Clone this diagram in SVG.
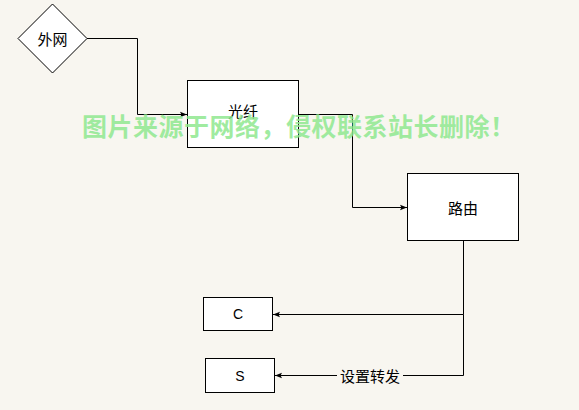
<svg xmlns="http://www.w3.org/2000/svg" width="579" height="410" viewBox="0 0 579 410">
<style>
.node{fill:#ffffff;stroke:#000000;stroke-width:1}
.lbl{font-family:"Noto Sans CJK SC","Liberation Sans",sans-serif;font-size:15px;fill:#000000;text-anchor:middle;dominant-baseline:central}
.lat{font-family:"Liberation Sans",sans-serif;font-size:14px;fill:#000000;text-anchor:middle;dominant-baseline:central}
.edge{fill:none;stroke:#000000;stroke-width:1}
.wm{font-family:"Noto Sans CJK SC",sans-serif;font-size:25px;font-weight:bold;fill:#8fe88f;fill-opacity:0.85}
</style>
<defs>
<marker id="arr" viewBox="0 0 10 10" refX="10" refY="5" markerWidth="7" markerHeight="7" markerUnits="userSpaceOnUse" orient="auto">
<path d="M0,1 L10,5 L0,9 L2,5 Z" fill="#000000"/>
</marker>
</defs>
<rect width="579" height="410" fill="#f8f6f0"/>
<g id="connectors">
<path class="edge" d="M87,38.5 H137.5 V114.5 H187" marker-end="url(#arr)"/>
<path class="edge" d="M298,114.5 H352.5 V207.5 H407" marker-end="url(#arr)"/>
<path class="edge" d="M463.5,241 V314.5 H273" marker-end="url(#arr)"/>
<path class="edge" d="M463.5,314.5 V375.5 H275" marker-end="url(#arr)"/>
<rect x="337" y="366" width="66" height="19" fill="#f8f6f0"/>
<text class="lbl" x="370" y="375">设置转发</text>
</g>
<g id="node-waiwang">
<polygon class="node" points="52.5,4 87,38.5 52.5,73 18,38.5"/>
<text class="lbl" x="52.5" y="38">外网</text>
</g>
<g id="node-guangxian">
<rect class="node" x="187.5" y="80.5" width="111" height="67"/>
<text class="lbl" x="243" y="110">光纤</text>
</g>
<g id="node-luyou">
<rect class="node" x="407.5" y="173.5" width="111" height="67"/>
<text class="lbl" x="463" y="207">路由</text>
</g>
<g id="node-c">
<rect class="node" x="203.5" y="297.5" width="69" height="33"/>
<text class="lat" x="238" y="314">C</text>
</g>
<g id="node-s">
<rect class="node" x="205.5" y="358.5" width="69" height="34"/>
<text class="lat" x="240" y="375.5">S</text>
</g>
<text class="wm" x="82" y="136" textLength="433">图片来源于网络，侵权联系站长删除！</text>
</svg>
